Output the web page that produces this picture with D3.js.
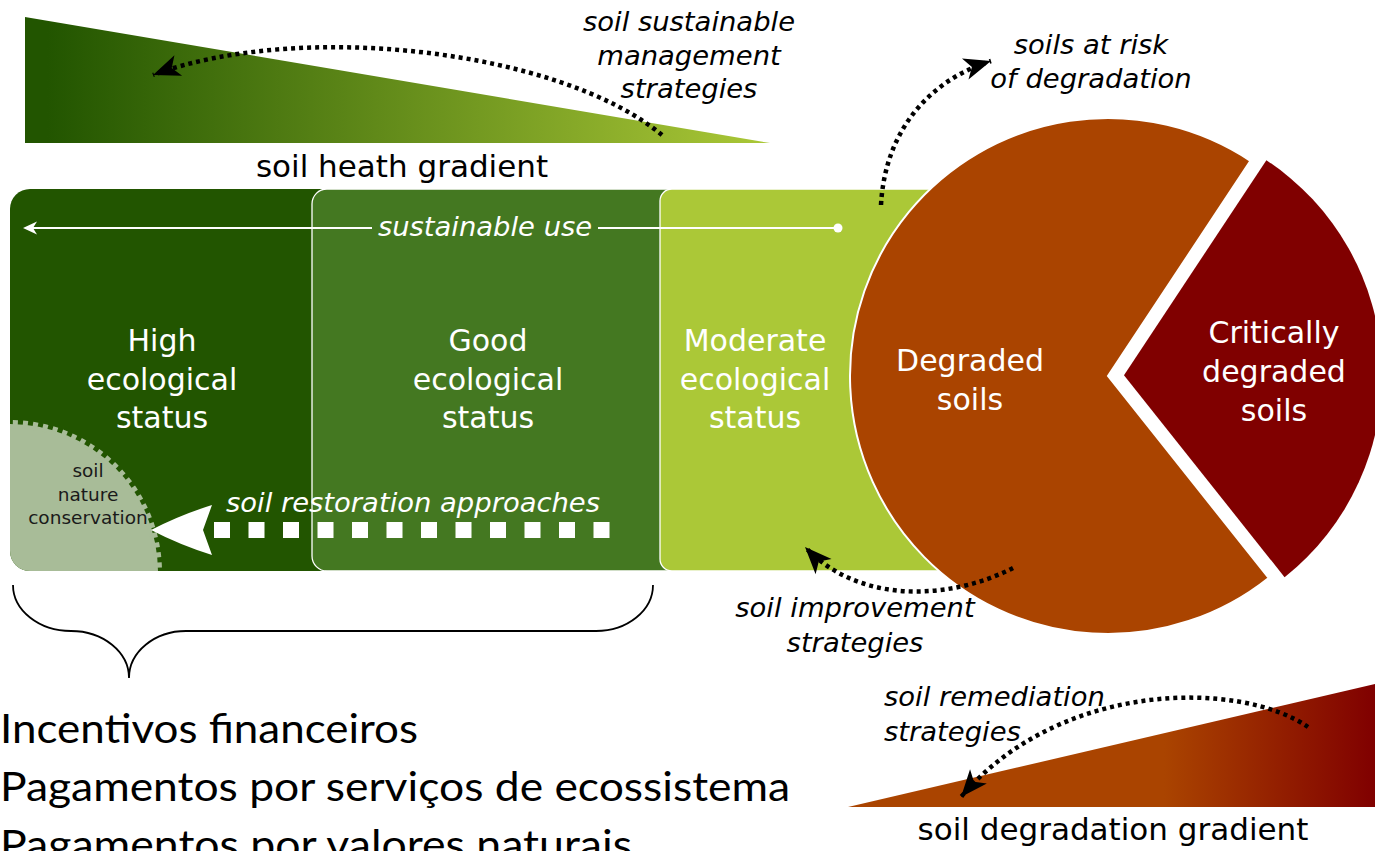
<!DOCTYPE html>
<html>
<head>
<meta charset="utf-8">
<script src="https://cdn.jsdelivr.net/npm/d3@7.9.0/dist/d3.min.js"></script>
<style>
  body { margin: 0; background: #fff; }
  svg { display: block; }
</style>
</head>
<body>
<svg id="chart" width="1375" height="851"></svg>
<script>
// data
const statusLabels = [
  ['High', 'ecological', 'status'],
  ['Good', 'ecological', 'status'],
  ['Moderate', 'ecological', 'status']
];
const pieLabels = [['Critically', 'degraded', 'soils'], ['Degraded', 'soils']];
const pieValues = [30, 70];
const strategyLabels = {
  sustainable: ['soil sustainable', 'management', 'strategies'],
  risk: ['soils at risk', 'of degradation'],
  improvement: ['soil improvement', 'strategies'],
  remediation: ['soil remediation', 'strategies'],
  restoration: ['soil restoration approaches'],
  use: ['sustainable use'],
  conservation: ['soil', 'nature', 'conservation']
};
const gradientLabels = ['soil heath gradient', 'soil degradation gradient'];
const incentives = [
  'Incentivos financeiros',
  'Pagamentos por serviços de ecossistema',
  'Pagamentos por valores naturais'
];

// styles
const greens = ['#225500', '#447821', '#abc837'];
const reds = ['#800000', '#aa4400'];
const FONT = '"DejaVu Sans", Verdana, sans-serif';

const svg = d3.select('#chart');
const defs = svg.append('defs');

// gradients
let g1 = defs.append('linearGradient').attr('id', 'healthGrad')
  .attr('gradientUnits', 'userSpaceOnUse').attr('x1', 25).attr('x2', 770).attr('y1', 0).attr('y2', 0);
g1.append('stop').attr('offset', 0.03).attr('stop-color', greens[0]);
g1.append('stop').attr('offset', 1).attr('stop-color', greens[2]);

let g2 = defs.append('linearGradient').attr('id', 'degGrad')
  .attr('gradientUnits', 'userSpaceOnUse').attr('x1', 848).attr('x2', 1375).attr('y1', 0).attr('y2', 0);
g2.append('stop').attr('offset', 0.6).attr('stop-color', reds[1]);
g2.append('stop').attr('offset', 1).attr('stop-color', reds[0]);

// arrow marker for dotted curves
defs.append('marker').attr('id', 'blackHead')
  .attr('markerUnits', 'userSpaceOnUse').attr('orient', 'auto')
  .attr('viewBox', '-30 -15 32 30').attr('markerWidth', 32).attr('markerHeight', 30)
  .attr('refX', 0).attr('refY', 0)
  .append('path').attr('d', 'M0,0 L-27,-11 L-20,0 L-27,11 Z').attr('fill', '#000');

// top and bottom gradient triangles
let line = d3.line();
svg.append('path')
  .attr('d', line([[25, 17], [25, 143], [770, 143]]) + 'Z')
  .attr('fill', 'url(#healthGrad)');
svg.append('path')
  .attr('d', line([[848, 807], [1375, 684], [1375, 807]]) + 'Z')
  .attr('fill', 'url(#degGrad)');

// status boxes
const boxLeft = d3.scaleOrdinal().domain([0, 1, 2]).range([10, 312, 660]);
const boxRight = d3.scaleOrdinal().domain([0, 1, 2]).range([340, 690, 1000]);
const boxRadius = [20, 15, 12];
const boxTop = 189, boxBottom = 571;

defs.append('clipPath').attr('id', 'box1Clip')
  .append('rect').attr('x', boxLeft(0)).attr('y', boxTop)
  .attr('width', boxRight(0) - boxLeft(0)).attr('height', boxBottom - boxTop).attr('rx', boxRadius[0]);

statusLabels.forEach((lab, i) => {
  svg.append('rect')
    .attr('x', boxLeft(i)).attr('y', boxTop)
    .attr('width', boxRight(i) - boxLeft(i)).attr('height', boxBottom - boxTop)
    .attr('rx', boxRadius[i])
    .attr('fill', greens[i])
    .attr('stroke', i ? '#fff' : 'none').attr('stroke-width', 1.3);
  if (i === 0) {
    // soil nature conservation quarter disc
    svg.append('circle')
      .attr('clip-path', 'url(#box1Clip)')
      .attr('cx', 10).attr('cy', 572).attr('r', 148)
      .attr('fill', '#a8bc98')
      .attr('stroke', '#a8bc98').attr('stroke-width', 8)
      .attr('stroke-dasharray', '5 5');
  }
});

const labelCx = [162, 488, 755];
statusLabels.forEach((lab, i) => {
  lab.forEach((t, j) => {
    svg.append('text')
      .attr('x', labelCx[i]).attr('y', 351 + j * 38.5)
      .attr('text-anchor', 'middle')
      .attr('font-family', FONT).attr('font-size', 30)
      .attr('fill', '#fff').text(t);
  });
});

// pie
const cx = 1108, cy = 376, R = 258;
const startA = 33.5 * Math.PI / 180;
const pie = d3.pie().sort(null).startAngle(startA).endAngle(startA + 2 * Math.PI);
const arc = d3.arc().innerRadius(0).outerRadius(R);
const arcs = pie(pieValues);
const pg = svg.append('g').attr('transform', `translate(${cx},${cy})`);
pg.selectAll('path').data(arcs).join('path')
  .attr('d', arc)
  .attr('transform', (d, i) => {
    if (i !== 0) return null;
    let m = (d.startAngle + d.endAngle) / 2;
    return `translate(${16 * Math.sin(m)},${-16 * Math.cos(m)})`;
  })
  .attr('fill', (d, i) => reds[i])
  .attr('stroke', (d, i) => i ? '#fff' : 'none')
  .attr('stroke-width', 2);

const pieLabelPos = [[1274, 343], [970, 371]];
pieLabels.forEach((lab, i) => {
  lab.forEach((t, j) => {
    svg.append('text')
      .attr('x', pieLabelPos[i][0]).attr('y', pieLabelPos[i][1] + j * 39)
      .attr('text-anchor', 'middle')
      .attr('font-family', FONT).attr('font-size', 30)
      .attr('fill', '#fff').text(t);
  });
});

// sustainable use line
svg.append('line').attr('x1', 30).attr('x2', 372).attr('y1', 228).attr('y2', 228)
  .attr('stroke', '#fff').attr('stroke-width', 1.8);
svg.append('line').attr('x1', 598).attr('x2', 838).attr('y1', 228).attr('y2', 228)
  .attr('stroke', '#fff').attr('stroke-width', 1.8);
svg.append('path').attr('d', 'M23,228 L37,221.5 L33,228 L37,234.5 Z').attr('fill', '#fff');
svg.append('circle').attr('cx', 838).attr('cy', 228).attr('r', 4.5).attr('fill', '#fff');

// restoration arrow
svg.append('line').attr('x1', 214).attr('x2', 610).attr('y1', 530).attr('y2', 530)
  .attr('stroke', '#fff').attr('stroke-width', 16).attr('stroke-dasharray', '16 18.5');
svg.append('path').attr('d', 'M151,530 Q180,515 212,505 L203,530 L212,555 Q180,545 151,530 Z').attr('fill', '#fff');

// italic labels
function italic(lines, x, y, dy, anchor, color, size) {
  lines.forEach((t, j) => {
    svg.append('text')
      .attr('x', x).attr('y', y + j * dy)
      .attr('text-anchor', anchor || 'middle')
      .attr('font-family', FONT).attr('font-style', 'italic')
      .attr('font-size', size || 27.4)
      .attr('fill', color || '#000').text(t);
  });
}
italic(strategyLabels.sustainable, 689, 31, 33.5);
italic(strategyLabels.risk, 1091, 54, 33.5);
italic(strategyLabels.improvement, 855, 617, 34.5);
italic(strategyLabels.remediation, 884, 706, 34.5, 'start');
italic(strategyLabels.restoration, 413, 512, 0, 'middle', '#fff');
italic(strategyLabels.use, 485, 236, 0, 'middle', '#fff');

// conservation label
strategyLabels.conservation.forEach((t, j) => {
  svg.append('text')
    .attr('x', 88).attr('y', 477 + j * 23.5)
    .attr('text-anchor', 'middle')
    .attr('font-family', FONT).attr('font-size', 18.5)
    .attr('fill', '#1a1a1a').text(t);
});

// gradient labels
svg.append('text').attr('x', 402).attr('y', 177).attr('text-anchor', 'middle')
  .attr('font-family', FONT).attr('font-size', 31).attr('fill', '#000').text(gradientLabels[0]);
svg.append('text').attr('x', 1113).attr('y', 840).attr('text-anchor', 'middle')
  .attr('font-family', FONT).attr('font-size', 31).attr('fill', '#000').text(gradientLabels[1]);

// dotted curved arrows
const curves = [
  'M662,135 C560,50 300,20 153,75',
  'M881,205 C885,130 930,80 991,61',
  'M1013,568 C950,600 860,605 805,547',
  'M1308,727 C1240,680 1060,680 961,797'
];
svg.selectAll('path.curve').data(curves).join('path')
  .attr('class', 'curve')
  .attr('d', d => d)
  .attr('fill', 'none')
  .attr('stroke', '#000').attr('stroke-width', 4.5)
  .attr('stroke-dasharray', '4 4')
  .attr('marker-end', 'url(#blackHead)');

// brace
svg.append('path')
  .attr('d', 'M13,585 A58,46 0 0 0 71,631 A58,47 0 0 1 129,678 A57,47 0 0 1 186,631 L596,631 A57,46 0 0 0 653,585')
  .attr('fill', 'none').attr('stroke', '#000').attr('stroke-width', 1.8);

// incentives list
const incWidths = [418, 790, 632];
incentives.forEach((t, j) => {
  svg.append('text')
    .attr('x', 0).attr('y', 743 + j * 58)
    .attr('font-family', 'Lato, "Open Sans", sans-serif').attr('font-size', 41)
    .attr('textLength', incWidths[j]).attr('lengthAdjust', 'spacingAndGlyphs')
    .attr('fill', '#000').text(t);
});
</script>
</body>
</html>
